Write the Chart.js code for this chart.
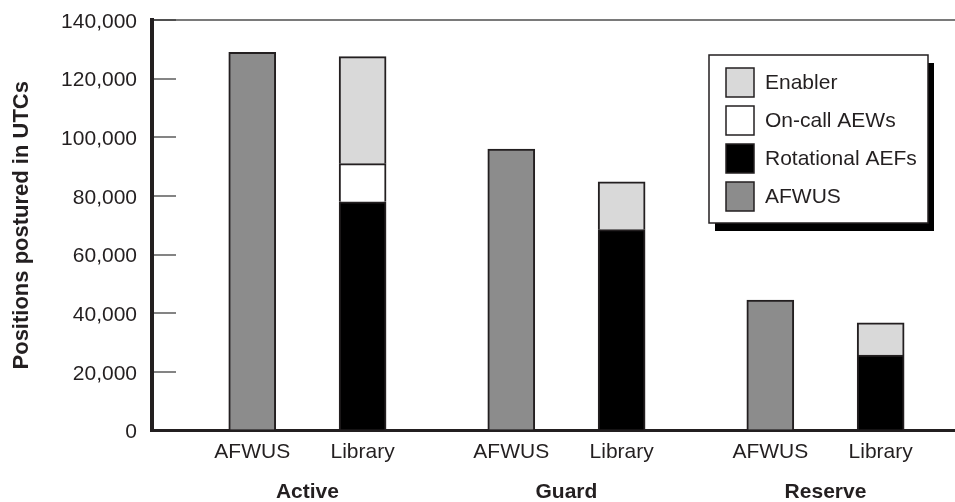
<!DOCTYPE html>
<html>
<head>
<meta charset="utf-8">
<script src="https://cdn.jsdelivr.net/npm/chart.js@4.4.1/dist/chart.umd.min.js"></script>
<style>
  html, body { margin: 0; padding: 0; background: #ffffff; }
  #wrap { width: 955px; height: 502px; }
</style>
</head>
<body>
<div id="wrap"><canvas id="chart" width="955" height="502"></canvas></div>
<script>
// Component groups and the two bars shown for each
const groups = ['Active', 'Guard', 'Reserve'];
const barLabels = ['AFWUS', 'Library'];

// Positions postured in UTCs
const afwusTotals    = [129000, 96000, 44500];
const rotationalAEFs = [78000, 68500, 25700];
const onCallAEWs     = [13000, 0, 0];
const enablers       = [36500, 16300, 11000];

// Y axis range and tick step
const yMax = 140000;
const yStep = 20000;

// Horizontal placement (in group units): each group centred on its index,
// the AFWUS bar to the left and the Library bar to the right
const barOffset = 0.213;
const xMin = -0.6;
const xMax = 2.5;

const ink = '#231f20';
const fontFamily = '"Liberation Sans", Arial, Helvetica, sans-serif';

const afwusPos = groups.map((g, i) => i - barOffset);
const libraryPos = groups.map((g, i) => i + barOffset);

function series(positions, values) {
  return positions.map((x, i) => ({ x: x, y: values[i] }));
}

const datasets = [
  { label: 'AFWUS',           data: series(afwusPos, afwusTotals),      backgroundColor: '#8c8c8c' },
  { label: 'Rotational AEFs', data: series(libraryPos, rotationalAEFs), backgroundColor: '#000000' },
  { label: 'On-call AEWs',    data: series(libraryPos, onCallAEWs),     backgroundColor: '#ffffff' },
  { label: 'Enabler',         data: series(libraryPos, enablers),       backgroundColor: '#d9d9d9' }
].map(d => Object.assign(d, {
  stack: 'positions',
  borderColor: ink,
  borderWidth: 2,
  barThickness: 47,
  grouped: false
}));

// Boxed legend with a drop shadow, listed top-down from the top of the stack
const boxedLegend = {
  id: 'boxedLegend',
  afterDraw(chart) {
    const ctx = chart.ctx;
    const box = { x: 709, y: 55, w: 219, h: 168 };
    const sw = 28, rowGap = 38, swX = box.x + 17, firstY = box.y + 13, textX = box.x + 56;
    ctx.save();
    ctx.fillStyle = '#000000';
    ctx.fillRect(box.x + 6, box.y + 8, box.w, box.h);
    ctx.fillStyle = '#ffffff';
    ctx.fillRect(box.x, box.y, box.w, box.h);
    ctx.strokeStyle = ink;
    ctx.lineWidth = 1.5;
    ctx.strokeRect(box.x, box.y, box.w, box.h);
    const items = chart.data.datasets.slice().reverse();
    ctx.font = '21px ' + fontFamily;
    ctx.textBaseline = 'middle';
    ctx.textAlign = 'left';
    items.forEach((ds, i) => {
      const y = firstY + i * rowGap;
      ctx.fillStyle = ds.backgroundColor;
      ctx.fillRect(swX, y, sw, sw + 1);
      ctx.strokeStyle = ink;
      ctx.lineWidth = 1.5;
      ctx.strokeRect(swX, y, sw, sw + 1);
      ctx.fillStyle = ink;
      ctx.fillText(ds.label, textX, y + sw / 2 + 1);
    });
    ctx.restore();
  }
};

new Chart(document.getElementById('chart'), {
  type: 'bar',
  data: { datasets: datasets },
  plugins: [boxedLegend],
  options: {
    responsive: false,
    animation: false,
    devicePixelRatio: 1,
    layout: { padding: { top: 20, right: 0, bottom: 0, left: 0 } },
    plugins: {
      legend: { display: false },
      tooltip: { enabled: false }
    },
    scales: {
      x: {
        type: 'linear',
        position: 'bottom',
        min: xMin,
        max: xMax,
        offset: false,
        z: 1,
        afterBuildTicks(scale) {
          const t = [];
          groups.forEach((g, i) => { t.push({ value: afwusPos[i] }); t.push({ value: libraryPos[i] }); });
          scale.ticks = t;
        },
        afterFit(scale) { scale.height = 40; scale.paddingLeft = 0; scale.paddingRight = 0; },
        grid: { display: false, drawTicks: false, offset: false },
        border: { display: true, color: ink, width: 3 },
        ticks: {
          autoSkip: false,
          maxRotation: 0,
          padding: 9,
          color: ink,
          font: { family: fontFamily, size: 21 },
          callback: (v, i) => barLabels[i % 2]
        }
      },
      groupAxis: {
        type: 'linear',
        position: 'bottom',
        axis: 'x',
        min: xMin,
        max: xMax,
        offset: false,
        afterBuildTicks(scale) {
          scale.ticks = groups.map((g, i) => ({ value: i }));
        },
        afterFit(scale) { scale.height = 31.5; scale.paddingLeft = 0; scale.paddingRight = 0; },
        grid: { display: false, drawTicks: false, offset: false },
        border: { display: false },
        ticks: {
          autoSkip: false,
          maxRotation: 0,
          padding: 9,
          color: ink,
          font: { family: fontFamily, size: 21, weight: 'bold' },
          callback: (v, i) => groups[i]
        }
      },
      y: {
        stacked: true,
        min: 0,
        max: yMax,
        afterFit(scale) { scale.width = 152; scale.paddingTop = 0; scale.paddingBottom = 0; },
        afterBuildTicks(scale) {
          const t = [];
          for (let v = 0; v <= yMax; v += yStep) t.push({ value: v });
          scale.ticks = t;
        },
        grid: {
          drawOnChartArea: true,
          drawTicks: true,
          tickLength: -24,
          tickColor: '#333333',
          tickWidth: 1.2,
          lineWidth: 2,
          color: (c) => (c.tick && c.tick.value === yMax) ? '#7a7a7a' : 'rgba(0,0,0,0)'
        },
        border: { display: true, color: ink, width: 4 },
        ticks: {
          padding: 39,
          labelOffset: 2,
          color: ink,
          font: { family: fontFamily, size: 21 },
          callback: (v) => Number(v).toLocaleString('en-US')
        },
        title: {
          display: true,
          text: 'Positions postured in UTCs',
          color: ink,
          font: { family: fontFamily, size: 22, weight: 'bold' },
          padding: { top: 9, bottom: 0 }
        }
      }
    }
  }
});
</script>
</body>
</html>
